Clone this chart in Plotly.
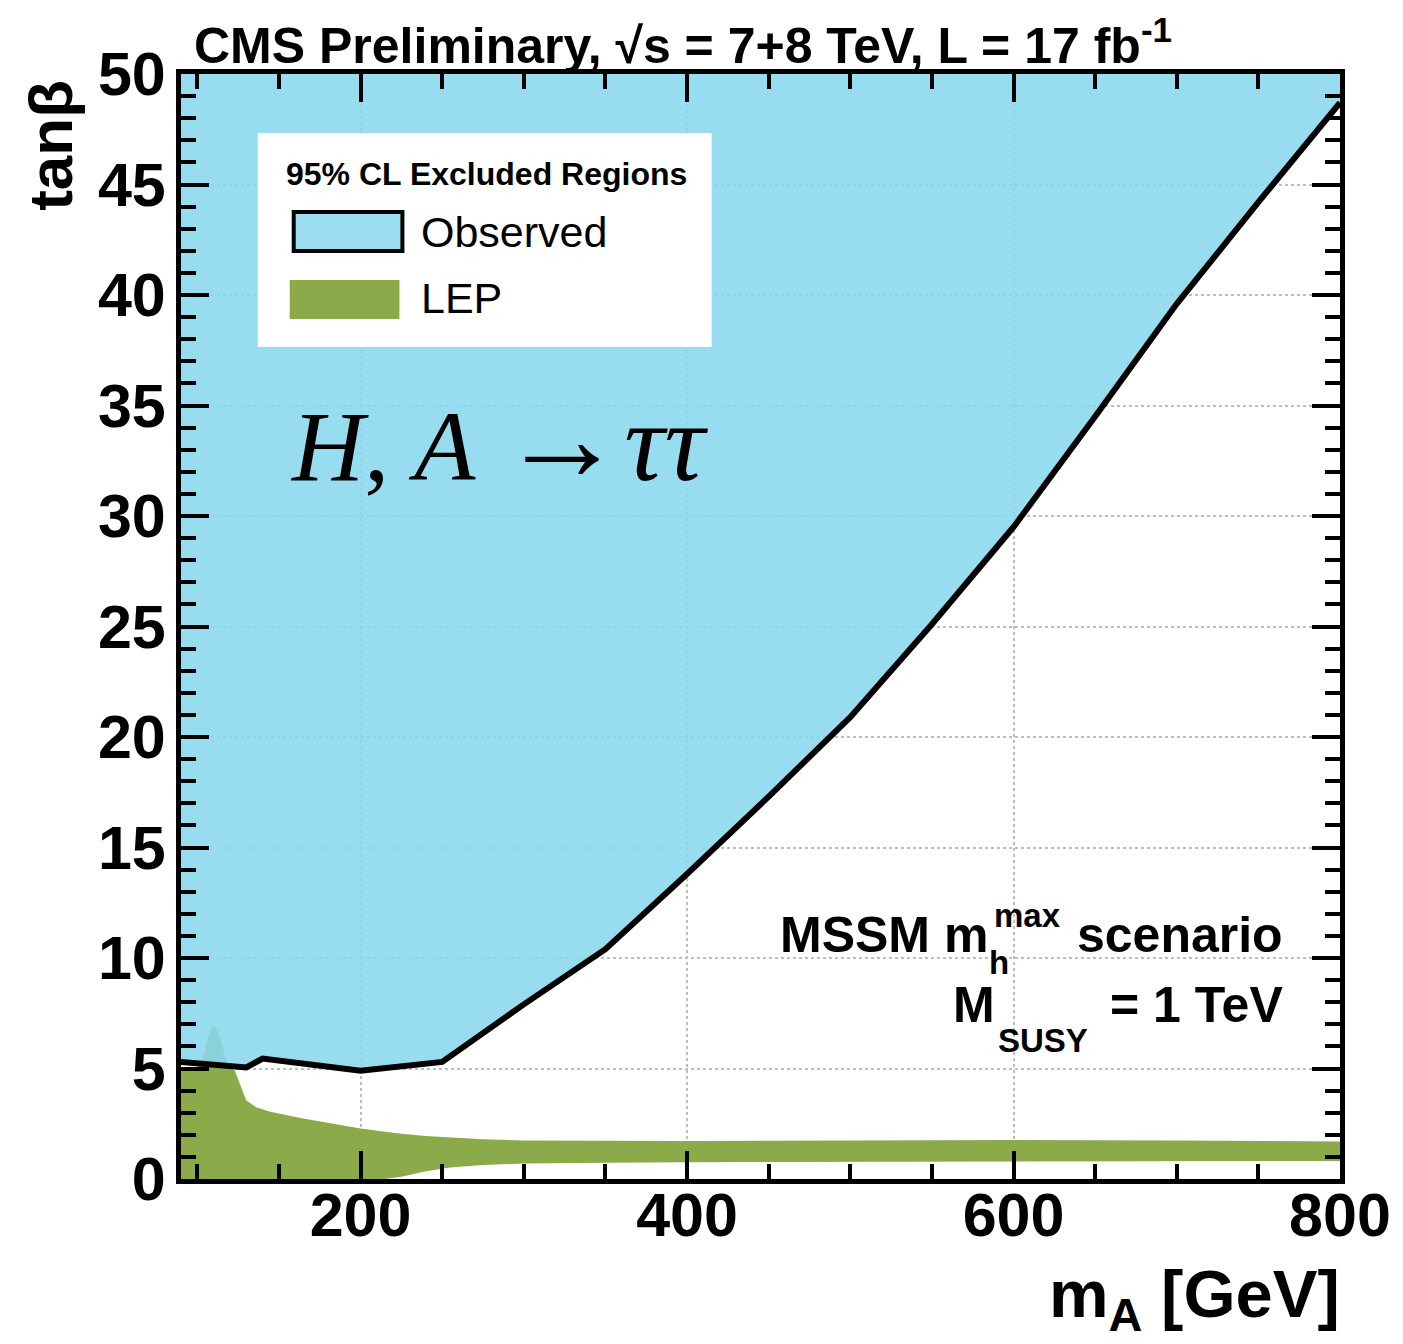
import plotly.graph_objects as go

# ---------------- data ----------------
X_MIN, X_MAX = 90, 800
Y_MIN, Y_MAX = 0, 50

obs_mass = [90, 110, 130, 140, 200, 250, 300, 350, 400, 450, 500, 550, 600, 650, 700, 750, 800]
obs_tanb = [5.3, 5.15, 5.05, 5.45, 4.9, 5.3, 7.9, 10.4, 13.8, 17.3, 20.9, 25.1, 29.5, 34.5, 39.6, 44.2, 48.7]

lep_mass = [90, 100, 104, 107, 110, 113, 116, 119, 123, 126, 130, 136, 144, 164, 185, 200, 215, 225,
            240, 255, 275, 300, 350, 400, 500, 600, 700, 800]
lep_upper = [5.0, 5.05, 5.6, 6.5, 7.0, 6.6, 5.8, 5.1, 4.9, 4.3, 3.55, 3.25, 3.05, 2.75, 2.48, 2.28, 2.14, 2.05,
             1.95, 1.88, 1.8, 1.74, 1.72, 1.72, 1.74, 1.76, 1.74, 1.70]
lep_lower = [0, 0, 0, 0, 0, 0, 0, 0, 0, 0, 0, 0, 0, 0, 0, 0, 0, 0.1,
             0.35, 0.52, 0.63, 0.7, 0.74, 0.76, 0.78, 0.8, 0.81, 0.82]

x_ticks = [200, 400, 600, 800]
y_ticks = [0, 5, 10, 15, 20, 25, 30, 35, 40, 45, 50]

BLUE_FILL = "rgba(137,215,237,0.88)"
BLUE_SOLID = "rgb(154,221,240)"
GREEN = "rgb(139,170,74)"
FONT = "Liberation Sans, Arial, sans-serif"

# ---------------- layout geometry ----------------
W, H = 1403, 1344
L, R, T, B = 181, 1343, 74, 1179


def px(p):
    return (p - L) / (R - L)


def py(p):
    return (B - p) / (B - T)


fig = go.Figure()

# LEP excluded region
fig.add_trace(go.Scatter(
    x=lep_mass + lep_mass[::-1],
    y=lep_upper + lep_lower[::-1],
    fill="toself", fillcolor=GREEN, mode="lines", line=dict(width=0, color=GREEN),
    hoverinfo="skip", showlegend=False))

# Observed excluded region (above contour)
fig.add_trace(go.Scatter(
    x=obs_mass + [X_MAX, X_MIN],
    y=obs_tanb + [Y_MAX, Y_MAX],
    fill="toself", fillcolor=BLUE_FILL, mode="lines", line=dict(width=0, color=BLUE_FILL),
    hoverinfo="skip", showlegend=False))

# Observed contour line
fig.add_trace(go.Scatter(
    x=obs_mass, y=obs_tanb, mode="lines",
    line=dict(color="black", width=6), hoverinfo="skip", showlegend=False))

tickfont = dict(family=FONT, size=61, color="black", weight="bold")

fig.update_xaxes(
    range=[X_MIN, X_MAX], tickvals=x_ticks, ticktext=[str(v) for v in x_ticks],
    ticks="inside", ticklen=28, tickwidth=4, tickcolor="black",
    minor=dict(ticks="inside", ticklen=15, tickwidth=4, tickcolor="black", dtick=50, tick0=0, showgrid=False),
    showline=True, linewidth=5, linecolor="black", mirror="allticks",
    showgrid=True, gridcolor="#bdbdbd", gridwidth=2, griddash="dot",
    zeroline=False, tickfont=tickfont, ticklabelstandoff=-21)

fig.update_yaxes(
    range=[Y_MIN, Y_MAX], tickvals=y_ticks, ticktext=[str(v) for v in y_ticks],
    ticks="inside", ticklen=28, tickwidth=4, tickcolor="black",
    minor=dict(ticks="inside", ticklen=15, tickwidth=4, tickcolor="black", dtick=1, tick0=0, showgrid=False),
    showline=True, linewidth=5, linecolor="black", mirror="allticks",
    showgrid=True, gridcolor="#bdbdbd", gridwidth=2, griddash="dot",
    zeroline=False, tickfont=tickfont, ticklabelstandoff=-2)

shapes = [
    # legend box
    dict(type="rect", xref="paper", yref="paper", x0=px(258), x1=px(713), y0=py(347), y1=py(133),
         fillcolor="white", line=dict(width=0), layer="above"),
    dict(type="rect", xref="paper", yref="paper", x0=px(294), x1=px(403), y0=py(251), y1=py(212),
         fillcolor=BLUE_SOLID, line=dict(width=4, color="black"), layer="above"),
    dict(type="rect", xref="paper", yref="paper", x0=px(290), x1=px(400), y0=py(319), y1=py(280),
         fillcolor=GREEN, line=dict(width=0), layer="above"),
]


def ann(text, x, y, size, xanchor="left", yanchor="middle", bold=True, family=FONT, angle=0):
    return dict(text=text, x=px(x), y=py(y), xref="paper", yref="paper", showarrow=False,
                xanchor=xanchor, yanchor=yanchor, textangle=angle,
                font=dict(family=family, size=size, color="black", weight="bold" if bold else "normal"))


annotations = [
    ann("CMS Preliminary, √s = 7+8 TeV, L = 17 fb<sup>-1</sup>", 192, 42, 50),
    ann("95% CL Excluded Regions", 284, 174, 32),
    ann("Observed", 420, 232, 43, bold=False),
    ann("LEP", 420, 298, 43, bold=False),
    ann("<i>H</i>, <i>A</i> <span style='font-size:124px'>→</span><i><span style='font-size:112px'>ττ</span></i>",
        288, 438, 100, bold=False, family="Liberation Serif, Times New Roman, serif"),
    ann("MSSM m", 780, 935, 50),
    ann("h", 989, 962, 33),
    ann("max", 994, 915, 33),
    ann("scenario", 1288, 935, 50, xanchor="right"),
    ann("M", 953, 1005, 50),
    ann("SUSY", 998, 1040, 33),
    ann("= 1 TeV", 1288, 1005, 50, xanchor="right"),
    ann("m<sub>A</sub> [GeV]", 1345, 1298, 67, xanchor="right"),
    ann("tanβ", 50, 78, 62, xanchor="center", yanchor="top", angle=-90),
]

fig.update_layout(
    width=W, height=H,
    margin=dict(l=L, r=W - R, t=T, b=H - B, pad=0),
    paper_bgcolor="white", plot_bgcolor="white",
    shapes=shapes, annotations=annotations, showlegend=False)

fig.write_html("out.html")
